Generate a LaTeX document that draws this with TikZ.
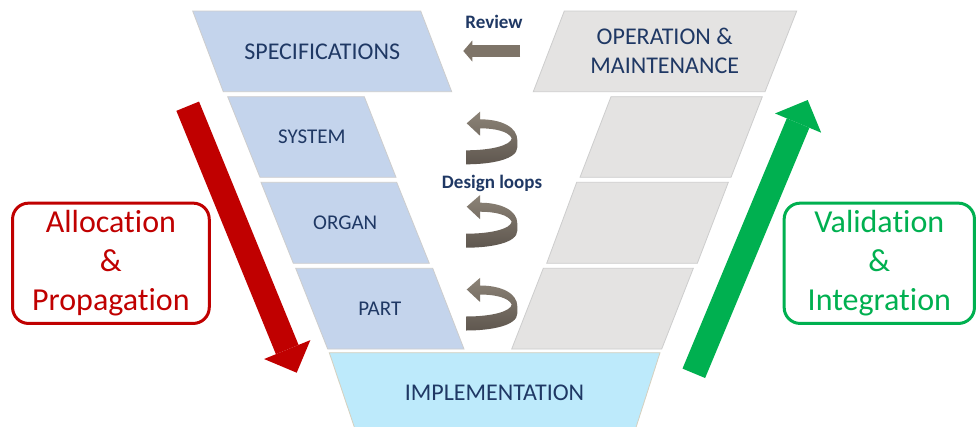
\documentclass[tikz,border=0pt]{standalone}
\usepackage{fontspec}
\setmainfont{Carlito}[Ligatures=CommonOff]
\usetikzlibrary{arrows.meta}
\definecolor{navy}{HTML}{1F3864}
\definecolor{specblue}{HTML}{C4D4EC}
\definecolor{opgray}{HTML}{E4E3E2}
\definecolor{implblue}{HTML}{BDEAFB}
\definecolor{edgegray}{HTML}{CDCDCD}
\definecolor{impledge}{HTML}{D6D0BE}
\definecolor{allocred}{HTML}{C00000}
\definecolor{valgreen}{HTML}{00B050}
\definecolor{loopgray}{HTML}{7E7468}
\definecolor{looplight}{HTML}{8C8377}
\definecolor{loopdark}{HTML}{5F574F}
\begin{document}
\begin{tikzpicture}[x=1pt,y=-1pt,
  bluebox/.style={fill=specblue, draw=edgegray, line width=0.8pt},
  graybox/.style={fill=opgray, draw=edgegray, line width=0.8pt},
  implbox/.style={fill=implblue, draw=impledge, line width=0.8pt},
  biglabel/.style={text=navy, font=\fontsize{24}{29}\selectfont, align=center},
  rowlabel/.style={text=navy, font=\fontsize{21}{25}\selectfont},
  boldlabel/.style={text=navy, font=\bfseries\fontsize{19}{23}\selectfont},
  sidebox/.style={line width=3pt, rounded corners=16pt, minimum width=196.7pt,
    minimum height=120.3pt, align=center, font=\fontsize{32}{39}\selectfont, inner sep=0pt},
  bigarrow/.style={line width=24.5pt, -{Triangle[length=25pt,width=50pt,line width=0pt]}},
  reviewarrow/.style={line width=12pt, loopgray, -{Triangle[length=9pt,width=21pt,line width=0pt]}},
  loopy/.pic={
    \shade[top color=looplight, bottom color=loopdark]
      (0,0) -- (13.3,-11.6) -- (13.3,-4)
      .. controls (35,-4) and (50.6,4) .. (50.6,16.7) -- (50.6,24)
      .. controls (50.6,36) and (25,41) .. (-0.7,41) -- (-0.7,27)
      .. controls (25,27) and (44,22) .. (45,15)
      .. controls (42,8) and (28,5) .. (13.3,5) -- (13.3,12.4) -- cycle;
  }
]
\useasboundingbox (0,0) rectangle (976,426);
\fill[white] (0,0) rectangle (976,426);

% left column
\draw[bluebox] (192.7,11) -- (420.7,11) -- (451.7,91.7) -- (223.3,91.7) -- cycle;
\draw[bluebox] (227.7,96.7) -- (364.3,96.7) -- (396,177.3) -- (260,177.3) -- cycle;
\draw[bluebox] (261,182.3) -- (396.7,182.3) -- (429.3,263.3) -- (293.3,263.3) -- cycle;
\draw[bluebox] (295.7,268.3) -- (432.7,268.3) -- (464,349) -- (327.7,349) -- cycle;
% bottom
\draw[implbox] (329.3,352.7) -- (660,352.7) -- (634.5,432) -- (356,432) -- cycle;
% right column
\draw[graybox] (564.3,11) -- (796.7,11) -- (765,91.7) -- (533.3,91.7) -- cycle;
\draw[graybox] (611,96.7) -- (762.3,96.7) -- (731,177.3) -- (580,177.3) -- cycle;
\draw[graybox] (576.7,182.3) -- (728.3,182.3) -- (697.3,263.3) -- (546.7,263.3) -- cycle;
\draw[graybox] (543.3,268.3) -- (693.3,268.3) -- (661.7,349) -- (511.7,349) -- cycle;

% labels
\node[biglabel] (spec) at (322.2,51.3) {SPECIFICATIONS};
\node[biglabel] (oper) at (664.7,51.3) {OPERATION \&\\MAINTENANCE};
\node[rowlabel] (sys) at (311.9,137) {SYSTEM};
\node[rowlabel] (org) at (345.2,222.8) {ORGAN};
\node[rowlabel] (part) at (379.8,308.6) {PART};
\node[biglabel] (impl) at (494.5,392.3) {IMPLEMENTATION};

% review
\node[boldlabel] (review) at (494,21.7) {Review};
\coordinate (revtail) at (520,51);
\coordinate (revtip) at (463.3,51);
\draw[reviewarrow] (revtail) -- (revtip);

% design loops
\node[boldlabel] (loops) at (492,183) {Design loops};
\pic at (466.7,123.3) {loopy};
\pic at (466.7,206.7) {loopy};
\pic at (466.7,289.5) {loopy};

% big arrows
\coordinate (redtail) at (187.7,106.2);
\coordinate (redtip) at (296.7,372.7);
\draw[bigarrow, allocred] (redtail) -- (redtip);
\coordinate (greentail) at (693.8,373.3);
\coordinate (greentip) at (807.7,100);
\draw[bigarrow, valgreen] (greentail) -- (greentip);

% side boxes
\node[sidebox, draw=allocred, text=allocred] (alloc) at (110.9,263.3) {Allocation\\\&\\Propagation};
\node[sidebox, draw=valgreen, text=valgreen, minimum width=190.3pt] (valid) at (879.3,263.3) {Validation\\\&\\Integration};
\end{tikzpicture}
\end{document}
